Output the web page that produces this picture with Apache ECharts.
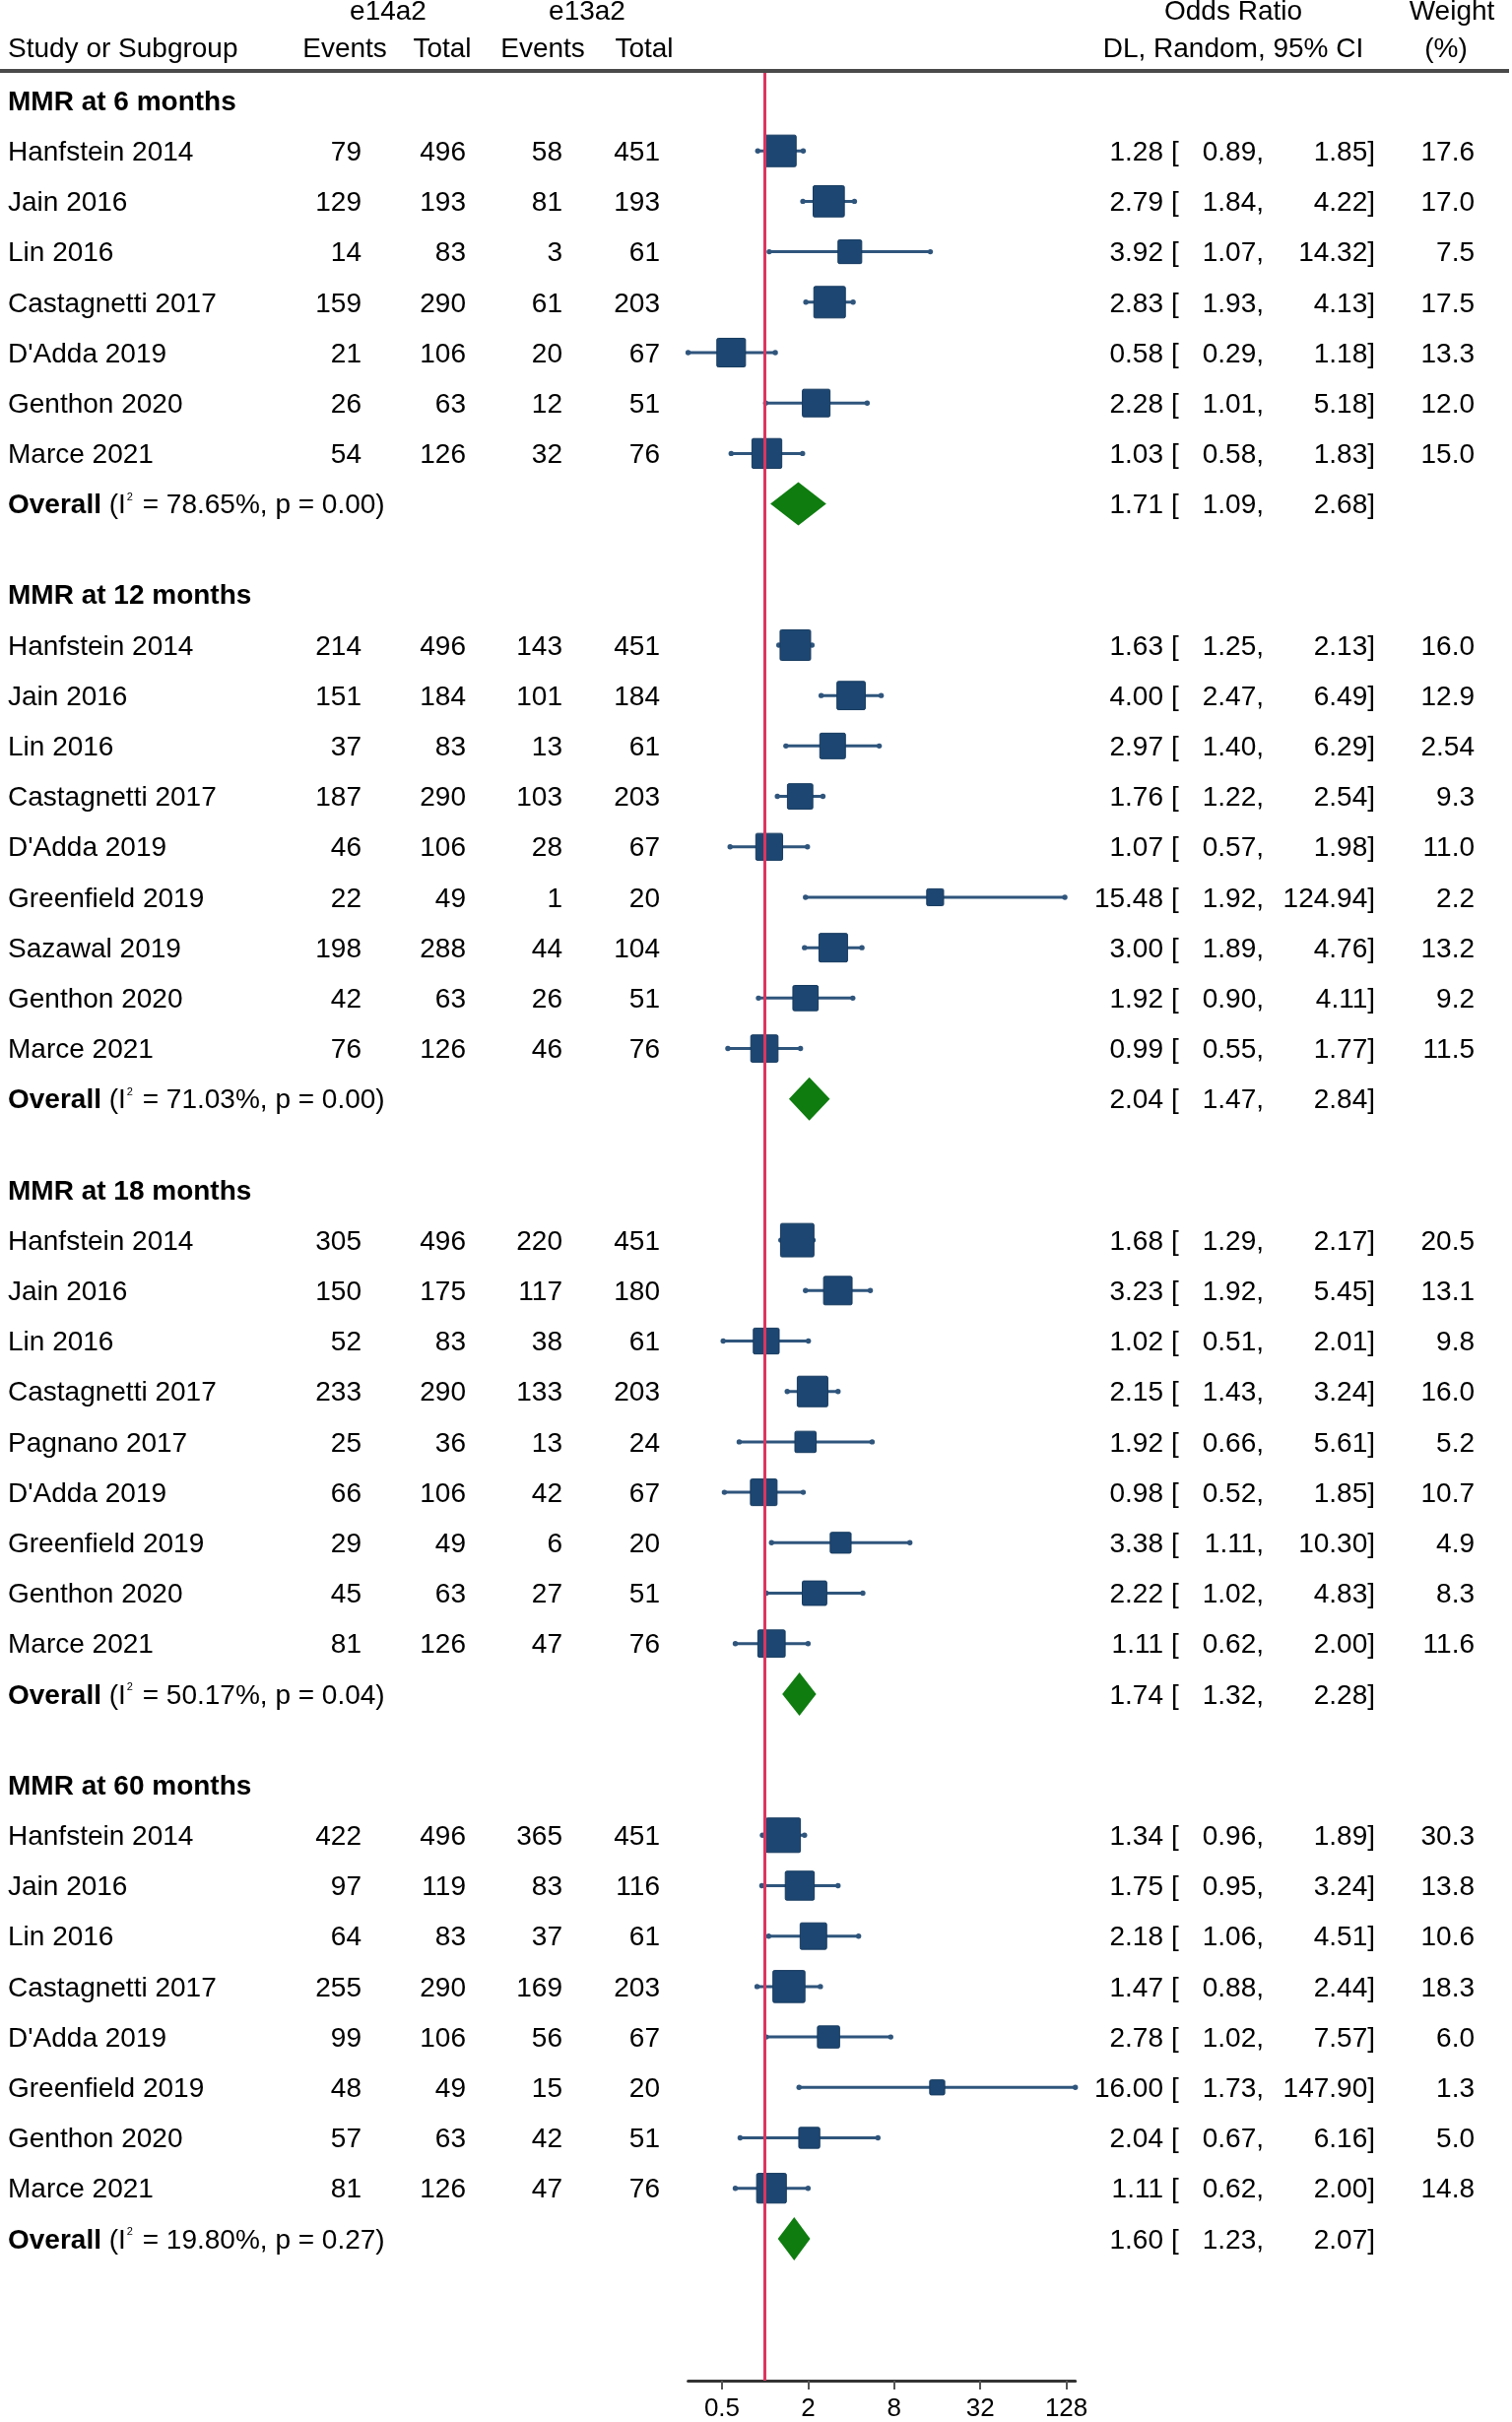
<!DOCTYPE html>
<html>
<head>
<meta charset="utf-8">
<script src="https://cdn.jsdelivr.net/npm/echarts@6.0.0/dist/echarts.min.js"></script>
<style>
  html, body { margin: 0; padding: 0; background: #fff; }
  #chart { width: 1535px; height: 2459px; }
</style>
</head>
<body>
<div id="chart"></div>
<script>
// ---- data ----
const groupTitles = ['MMR at 6 months', 'MMR at 12 months', 'MMR at 18 months', 'MMR at 60 months'];
const overallStats = ['78.65%, p = 0.00', '71.03%, p = 0.00', '50.17%, p = 0.04', '19.80%, p = 0.27'];

const study6 = ['Hanfstein 2014', 'Jain 2016', 'Lin 2016', 'Castagnetti 2017', "D'Adda 2019", 'Genthon 2020', 'Marce 2021'];
const ev14_6 = [79, 129, 14, 159, 21, 26, 54];
const tot14_6 = [496, 193, 83, 290, 106, 63, 126];
const ev13_6 = [58, 81, 3, 61, 20, 12, 32];
const tot13_6 = [451, 193, 61, 203, 67, 51, 76];
const or6 = ['1.28', '2.79', '3.92', '2.83', '0.58', '2.28', '1.03'];
const lo6 = ['0.89', '1.84', '1.07', '1.93', '0.29', '1.01', '0.58'];
const hi6 = ['1.85', '4.22', '14.32', '4.13', '1.18', '5.18', '1.83'];
const w6 = ['17.6', '17.0', '7.5', '17.5', '13.3', '12.0', '15.0'];
const pooled6 = ['1.71', '1.09', '2.68'];

const study12 = ['Hanfstein 2014', 'Jain 2016', 'Lin 2016', 'Castagnetti 2017', "D'Adda 2019", 'Greenfield 2019', 'Sazawal 2019', 'Genthon 2020', 'Marce 2021'];
const ev14_12 = [214, 151, 37, 187, 46, 22, 198, 42, 76];
const tot14_12 = [496, 184, 83, 290, 106, 49, 288, 63, 126];
const ev13_12 = [143, 101, 13, 103, 28, 1, 44, 26, 46];
const tot13_12 = [451, 184, 61, 203, 67, 20, 104, 51, 76];
const or12 = ['1.63', '4.00', '2.97', '1.76', '1.07', '15.48', '3.00', '1.92', '0.99'];
const lo12 = ['1.25', '2.47', '1.40', '1.22', '0.57', '1.92', '1.89', '0.90', '0.55'];
const hi12 = ['2.13', '6.49', '6.29', '2.54', '1.98', '124.94', '4.76', '4.11', '1.77'];
const w12 = ['16.0', '12.9', '2.54', '9.3', '11.0', '2.2', '13.2', '9.2', '11.5'];
const pooled12 = ['2.04', '1.47', '2.84'];

const study18 = ['Hanfstein 2014', 'Jain 2016', 'Lin 2016', 'Castagnetti 2017', 'Pagnano 2017', "D'Adda 2019", 'Greenfield 2019', 'Genthon 2020', 'Marce 2021'];
const ev14_18 = [305, 150, 52, 233, 25, 66, 29, 45, 81];
const tot14_18 = [496, 175, 83, 290, 36, 106, 49, 63, 126];
const ev13_18 = [220, 117, 38, 133, 13, 42, 6, 27, 47];
const tot13_18 = [451, 180, 61, 203, 24, 67, 20, 51, 76];
const or18 = ['1.68', '3.23', '1.02', '2.15', '1.92', '0.98', '3.38', '2.22', '1.11'];
const lo18 = ['1.29', '1.92', '0.51', '1.43', '0.66', '0.52', '1.11', '1.02', '0.62'];
const hi18 = ['2.17', '5.45', '2.01', '3.24', '5.61', '1.85', '10.30', '4.83', '2.00'];
const w18 = ['20.5', '13.1', '9.8', '16.0', '5.2', '10.7', '4.9', '8.3', '11.6'];
const pooled18 = ['1.74', '1.32', '2.28'];

const study60 = ['Hanfstein 2014', 'Jain 2016', 'Lin 2016', 'Castagnetti 2017', "D'Adda 2019", 'Greenfield 2019', 'Genthon 2020', 'Marce 2021'];
const ev14_60 = [422, 97, 64, 255, 99, 48, 57, 81];
const tot14_60 = [496, 119, 83, 290, 106, 49, 63, 126];
const ev13_60 = [365, 83, 37, 169, 56, 15, 42, 47];
const tot13_60 = [451, 116, 61, 203, 67, 20, 51, 76];
const or60 = ['1.34', '1.75', '2.18', '1.47', '2.78', '16.00', '2.04', '1.11'];
const lo60 = ['0.96', '0.95', '1.06', '0.88', '1.02', '1.73', '0.67', '0.62'];
const hi60 = ['1.89', '3.24', '4.51', '2.44', '7.57', '147.90', '6.16', '2.00'];
const w60 = ['30.3', '13.8', '10.6', '18.3', '6.0', '1.3', '5.0', '14.8'];
const pooled60 = ['1.60', '1.23', '2.07'];

// the printed "2.54" weight for Lin 2016 (12 months) is drawn with a box the size of ~9.5
const boxWeightFix = { '1-2': 9.54 };

const tickLabels = [0.5, 2, 8, 32, 128];

// ---- layout / style ----
const FONT = '"Liberation Sans", Arial, Helvetica, sans-serif';
const FS = 28;
const BOX = '#1d4772', BOX_EDGE = '#163a5f', CI = '#2f557c';
const DIAMOND = '#0f7c10', NULL_LINE = '#dc3560';
const ROW0 = 102, ROWH = 51.2, GAP = 0.8;
const TOP = 72, AXIS_Y = 2417, H = 2459;

const groups = [
  { study: study6, e1: ev14_6, t1: tot14_6, e2: ev13_6, t2: tot13_6, or: or6, lo: lo6, hi: hi6, w: w6, pooled: pooled6 },
  { study: study12, e1: ev14_12, t1: tot14_12, e2: ev13_12, t2: tot13_12, or: or12, lo: lo12, hi: hi12, w: w12, pooled: pooled12 },
  { study: study18, e1: ev14_18, t1: tot14_18, e2: ev13_18, t2: tot13_18, or: or18, lo: lo18, hi: hi18, w: w18, pooled: pooled18 },
  { study: study60, e1: ev14_60, t1: tot14_60, e2: ev13_60, t2: tot13_60, or: or60, lo: lo60, hi: hi60, w: w60, pooled: pooled60 },
];

const cells = [];     // text pieces
const boxes = [];     // [log or, row, log lo, log hi, side]
const diamonds = [];  // [log or, row, log lo, log hi]
const allLo = [], allHi = [];

const boxSide = (w) => Math.min(35, 9 + 5.5 * Math.sqrt(w));

function orCells(p, est, lo, hi) {
  cells.push({ x: 1181, p, text: est, align: 'right' });
  cells.push({ x: 1189, p, text: '[', align: 'left' });
  cells.push({ x: 1283, p, text: lo + ',', align: 'right' });
  cells.push({ x: 1396, p, text: hi + ']', align: 'right' });
}

let p = 0;
groups.forEach((g, gi) => {
  cells.push({ x: 8, p, text: groupTitles[gi], align: 'left', bold: true });
  p += 1;
  g.study.forEach((name, i) => {
    cells.push({ x: 8, p, text: name, align: 'left' });
    cells.push({ x: 367, p, text: String(g.e1[i]), align: 'right' });
    cells.push({ x: 473, p, text: String(g.t1[i]), align: 'right' });
    cells.push({ x: 571, p, text: String(g.e2[i]), align: 'right' });
    cells.push({ x: 670, p, text: String(g.t2[i]), align: 'right' });
    orCells(p, g.or[i], g.lo[i], g.hi[i]);
    cells.push({ x: 1497, p, text: g.w[i], align: 'right' });
    const bw = boxWeightFix[gi + '-' + i] ?? parseFloat(g.w[i]);
    boxes.push([Math.log2(+g.or[i]), p, Math.log2(+g.lo[i]), Math.log2(+g.hi[i]), boxSide(bw)]);
    allLo.push(+g.lo[i]); allHi.push(+g.hi[i]);
    p += 1;
  });
  cells.push({ x: 8, p, text: '{b|Overall} (I{s|2} = ' + overallStats[gi] + ')', align: 'left', rich: true });
  orCells(p, g.pooled[0], g.pooled[1], g.pooled[2]);
  diamonds.push([Math.log2(+g.pooled[0]), p, Math.log2(+g.pooled[1]), Math.log2(+g.pooled[2])]);
  p += 1 + GAP;
});

const yMin = (TOP - ROW0) / ROWH;
const yMax = (AXIS_Y - ROW0) / ROWH;
const xMin = Math.log2(Math.min(...allLo));
const xMax = Math.log2(Math.max(...allHi));
const plotLeft = 698.6, plotWidth = 393.1;

const yAxisBase = { type: 'value', inverse: true, min: yMin, max: yMax, show: false };

function header(x, y, text, align) {
  return { type: 'text', x, y, silent: true,
    style: { text, fontFamily: FONT, fontSize: FS, fill: '#000', align, verticalAlign: 'middle' } };
}

const chart = echarts.init(document.getElementById('chart'), null, { renderer: 'canvas' });
chart.setOption({
  animation: false,
  backgroundColor: '#fff',
  grid: [
    { left: plotLeft, width: plotWidth, top: TOP, bottom: H - AXIS_Y },
    { left: 0, right: 0, top: TOP, bottom: H - AXIS_Y },
  ],
  xAxis: [
    {
      gridIndex: 0, type: 'value', min: xMin, max: xMax, position: 'bottom',
      axisLine: { show: true, onZero: false, lineStyle: { color: '#333', width: 3 } },
      axisTick: { show: true, customValues: tickLabels.map(Math.log2), length: 9,
        lineStyle: { color: '#555', width: 2 } },
      axisLabel: { show: true, customValues: tickLabels.map(Math.log2), margin: 16,
        fontFamily: FONT, fontSize: 26, color: '#000',
        formatter: (v) => String(Math.round(Math.pow(2, v) * 1000) / 1000) },
      splitLine: { show: false },
    },
    { gridIndex: 1, type: 'value', min: 0, max: 1535, show: false },
  ],
  yAxis: [
    Object.assign({ gridIndex: 0 }, yAxisBase),
    Object.assign({ gridIndex: 1 }, yAxisBase),
  ],
  graphic: [
    header(394, 12, 'e14a2', 'center'),
    header(596, 12, 'e13a2', 'center'),
    header(8, 50, 'Study or Subgroup', 'left'),
    header(350, 50, 'Events', 'center'),
    header(449, 50, 'Total', 'center'),
    header(551, 50, 'Events', 'center'),
    header(654, 50, 'Total', 'center'),
    header(1252, 12, 'Odds Ratio', 'center'),
    header(1252, 50, 'DL, Random, 95% CI', 'center'),
    header(1474, 12, 'Weight', 'center'),
    header(1468, 50, '(%)', 'center'),
    { type: 'line', silent: true, shape: { x1: 0, y1: TOP, x2: 1532, y2: TOP },
      style: { stroke: '#4a4a4a', lineWidth: 4 }, z: 10 },
  ],
  series: [
    {
      // reference line at OR = 1
      type: 'scatter', xAxisIndex: 0, yAxisIndex: 0, data: [], z: 1,
      markLine: {
        silent: true, symbol: 'none', label: { show: false },
        lineStyle: { color: NULL_LINE, width: 3, type: 'solid' },
        data: [{ xAxis: 0 }],
      },
    },
    {
      type: 'custom', name: 'studies', xAxisIndex: 0, yAxisIndex: 0, z: 3,
      data: boxes,
      encode: { x: 0, y: 1 },
      renderItem(params, api) {
        const y = api.coord([0, api.value(1)])[1];
        const xm = api.coord([api.value(0), 0])[0];
        const xl = api.coord([api.value(2), 0])[0];
        const xh = api.coord([api.value(3), 0])[0];
        const s = api.value(4);
        return { type: 'group', children: [
          { type: 'line', shape: { x1: xl, y1: y, x2: xh, y2: y }, style: { stroke: CI, lineWidth: 3 } },
          { type: 'circle', shape: { cx: xl, cy: y, r: 2.7 }, style: { fill: CI } },
          { type: 'circle', shape: { cx: xh, cy: y, r: 2.7 }, style: { fill: CI } },
          { type: 'rect', shape: { x: xm - s / 2, y: y - s / 2, width: s, height: s, r: 1.5 },
            style: { fill: BOX, stroke: BOX_EDGE, lineWidth: 1 } },
        ] };
      },
    },
    {
      type: 'custom', name: 'overall', xAxisIndex: 0, yAxisIndex: 0, z: 3,
      data: diamonds,
      encode: { x: 0, y: 1 },
      renderItem(params, api) {
        const y = api.coord([0, api.value(1)])[1];
        const xm = api.coord([api.value(0), 0])[0];
        const xl = api.coord([api.value(2), 0])[0];
        const xh = api.coord([api.value(3), 0])[0];
        return { type: 'polygon',
          shape: { points: [[xl, y], [xm, y - 22], [xh, y], [xm, y + 22]] },
          style: { fill: DIAMOND } };
      },
    },
    {
      type: 'custom', name: 'table', xAxisIndex: 1, yAxisIndex: 1, z: 4, silent: true,
      data: cells.map((c) => [c.x, c.p]),
      encode: { x: 0, y: 1 },
      renderItem(params, api) {
        const c = cells[params.dataIndex];
        const pt = api.coord([c.x, c.p]);
        const style = { text: c.text, fontFamily: FONT, fontSize: FS, fill: '#000',
          fontWeight: c.bold ? 'bold' : 'normal', align: c.align, verticalAlign: 'middle' };
        if (c.rich) {
          style.rich = {
            b: { fontFamily: FONT, fontSize: FS, fontWeight: 'bold', fill: '#000' },
            s: { fontFamily: FONT, fontSize: 11, fill: '#000', verticalAlign: 'top', padding: [0, 2, 0, 1] },
          };
        }
        return { type: 'text', x: pt[0], y: pt[1] + 2, style };
      },
    },
  ],
});
</script>
</body>
</html>
